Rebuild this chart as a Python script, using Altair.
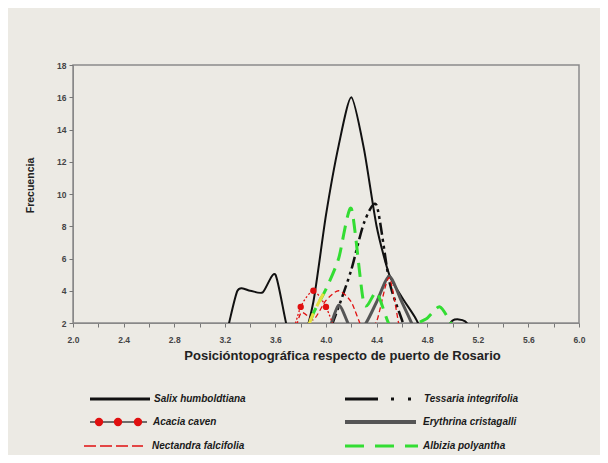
import altair as alt
import pandas as pd

# ---- data ----
posicion = [3.0, 3.1, 3.2, 3.3, 3.4, 3.5, 3.6, 3.7, 3.8, 3.9, 4.0, 4.1,
            4.2, 4.3, 4.4, 4.5, 4.6, 4.7, 4.8, 4.9, 5.0, 5.1, 5.2]
salix     = [0, 0, 1, 4, 4, 3.9, 5, 1.5, 0.5, 3.3, 8.7, 13, 16, 12.8, 8, 5, 3.6, 2.4, 1, 1, 2.15, 2.1, 1]
tessaria  = [0, 0, 0, 0, 0, 0, 0, 0, 0, 0, 1, 3, 5.3, 8.2, 9.3, 4.6, 2.2, 0, 0, 0, 0, 0, 0]
erythrina = [0, 0, 0, 0, 0, 0, 0, 0, 0, 0, 1, 3.1, 1.6, 1.8, 3.3, 4.9, 3.3, 1.6, 0, 0, 0, 0, 0]
nectandra = [0, 0, 0, 0, 0, 0, 0, 0, 2.6, 2.2, 3.4, 4.0, 3.3, 1.5, 2.1, 4.8, 1.0, 0, 0, 0, 0, 0, 0]
acacia    = [0, 0, 0, 0, 0, 0, 0, 0.5, 3.0, 4.0, 3.0, 1.0, 0, 0, 0, 0, 0, 0, 0, 0, 0, 0, 0]
albizia   = [0, 0, 0, 0, 0, 0, 0, 0, 0.5, 2.6, 4.1, 6.0, 9.1, 3.2, 3.9, 1.9, 1.5, 1.9, 2.3, 3.0, 1.8, 0, 0]

x_ticks = [2.0, 2.2, 2.4, 2.6, 2.8, 3.0, 3.2, 3.4, 3.6, 3.8, 4.0, 4.2, 4.4,
           4.6, 4.8, 5.0, 5.2, 5.4, 5.6, 5.8, 6.0]
y_ticks = [2, 4, 6, 8, 10, 12, 14, 16, 18]

series = {
    "Salix humboldtiana": salix,
    "Tessaria integrifolia": tessaria,
    "Erythrina cristagalli": erythrina,
    "Nectandra falcifolia": nectandra,
    "Acacia caven": acacia,
    "Albizia polyantha": albizia,
}
rows = []
for name, vals in series.items():
    for xv, yv in zip(posicion, vals):
        rows.append({"serie": name, "x": xv, "y": yv})
df = pd.DataFrame(rows)

FONT = "Liberation Sans"
W, H = 506, 258
INTERP = "cardinal"
TENSION = 0.3

x_enc = alt.X("x:Q",
              scale=alt.Scale(domain=[2, 6], nice=False, zero=False),
              axis=alt.Axis(values=x_ticks,
                            labelExpr="round(datum.value*10) % 4 == 0 ? format(datum.value, '.1f') : ''",
                            title="Posicióntopográfica respecto de puerto de Rosario",
                            titleFont=FONT, titleFontSize=13, titleFontWeight="bold", titleColor="#222",
                            titleX=269, titleY=32, titleBaseline="middle", titleAlign="center",
                            labelFont=FONT, labelFontSize=8.5, labelFontWeight="bold", labelColor="#444",
                            labelPadding=8, tickSize=4, tickColor="#777", domainColor="#888",
                            grid=False, labelFlush=False, labelOverlap=False))
y_enc = alt.Y("y:Q",
              scale=alt.Scale(domain=[2, 18], nice=False, zero=False),
              axis=alt.Axis(values=y_ticks, title="Frecuencia",
                            titleFont=FONT, titleFontSize=10.5, titleFontWeight="bold", titleColor="#222",
                            titleX=-43, titleY=120, titleAngle=270, titleBaseline="middle", titleAlign="center",
                            labelFont=FONT, labelFontSize=8.5, labelFontWeight="bold", labelColor="#444",
                            labelPadding=3, tickSize=4, tickColor="#777", domainColor="#888",
                            grid=False))

base = alt.Chart(df)


def line(name, color, width, dash=None):
    kw = dict(interpolate=INTERP, tension=TENSION, clip=True, color=color, strokeWidth=width)
    if dash:
        kw["strokeDash"] = dash
    return base.transform_filter(alt.datum.serie == name).mark_line(**kw).encode(x=x_enc, y=y_enc)


layers = [
    line("Salix humboldtiana", "#111111", 2),
    line("Tessaria integrifolia", "#111111", 2.5, [12, 4, 3, 4, 3, 4]),
    line("Erythrina cristagalli", "#555555", 3),
    line("Nectandra falcifolia", "#E01010", 1.3, [5, 3]),
    line("Acacia caven", "#E01010", 1.3, [2, 2]),
    base.transform_filter((alt.datum.serie == "Acacia caven") & (alt.datum.y >= 2))
        .mark_circle(size=40, color="#E01010", opacity=1, clip=True).encode(x=x_enc, y=y_enc),
    line("Albizia polyantha", "#33DD33", 3, [14, 8]),
    base.transform_filter((alt.datum.serie == "Albizia polyantha") & (alt.datum.x > 3.79) & (alt.datum.x < 4.01))
        .mark_line(interpolate=INTERP, tension=TENSION, clip=True, color="#E5E040", strokeWidth=3,
                   strokeDash=[14, 8])
        .encode(x=x_enc, y=y_enc),
]

one = alt.Data(values=[{}])


def leg_rule(x1, x2, y, color, width, dash=None):
    kw = dict(color=color, strokeWidth=width)
    if dash:
        kw["strokeDash"] = dash
    return alt.Chart(one).mark_rule(**kw).encode(x=alt.value(x1), x2=alt.value(x2), y=alt.value(y))


def leg_text(x, y, txt):
    return alt.Chart(one).mark_text(text=txt, align="left", baseline="middle", font=FONT,
                                    fontSize=10, fontWeight="bold", fontStyle="italic",
                                    color="#1a1a1a").encode(x=alt.value(x), y=alt.value(y))


def leg_dot(x, y):
    return alt.Chart(one).mark_circle(size=70, color="#E01010", opacity=1).encode(x=alt.value(x), y=alt.value(y))


r1, r2, r3 = 334, 357, 381
legend = [
    leg_rule(17, 77, r1, "#111111", 3), leg_text(81, r1, "Salix humboldtiana"),
    leg_rule(17, 74, r2, "#444444", 1.5), leg_dot(26, r2), leg_dot(45, r2), leg_dot(65, r2),
    leg_text(80, r2, "Acacia caven"),
    leg_rule(11, 70, r3, "#E01010", 1.5, [12, 4]), leg_text(79, r3, "Nectandra falcifolia"),
    leg_rule(272, 340, r1, "#111111", 3, [33, 13, 3, 14, 3, 50]), leg_text(351, r1, "Tessaria integrifolia"),
    leg_rule(272, 343, r2, "#555555", 4), leg_text(350, r2, "Erythrina cristagalli"),
    leg_rule(272, 345, r3, "#33DD33", 3, [19, 11]), leg_text(350, r3, "Albizia polyantha"),
]

chart = alt.layer(*layers, *legend).properties(
    width=W, height=H,
    autosize=alt.AutoSizeParams(type="none"),
    padding={"left": 65, "top": 57, "right": 21, "bottom": 132},
    background="#ECEAE4",
).configure_view(stroke="#8a8a8a", strokeWidth=1.5)

chart.save("out.html", embed_options={"renderer": "svg", "actions": False})
